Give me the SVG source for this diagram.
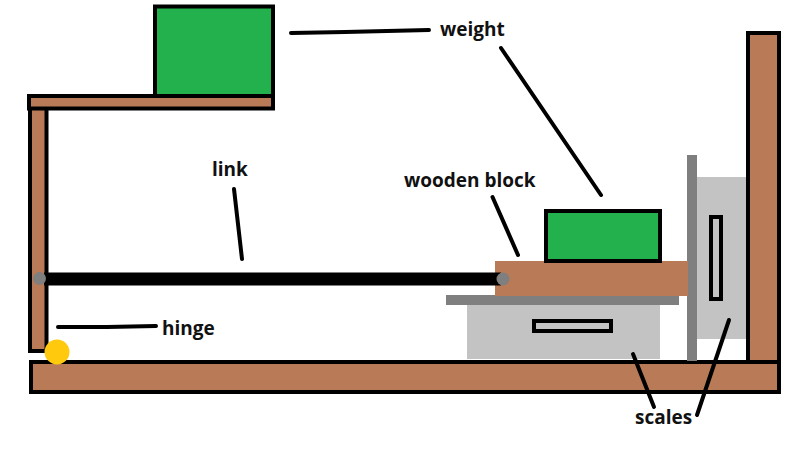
<svg xmlns="http://www.w3.org/2000/svg" width="800" height="474" viewBox="0 0 800 474">
<style>
.wood{fill:#b97a57;stroke:#000;stroke-width:4}
.mass{fill:#22b14c;stroke:#000;stroke-width:4}
.scale{fill:#c3c3c3}
.plate{fill:#7f7f7f}
.slot{fill:#c3c3c3;stroke:#000;stroke-width:4}
.lead{fill:none;stroke:#000;stroke-width:4;stroke-linecap:round;stroke-linejoin:round}
text{font-family:"Open Sans","Noto Sans","Liberation Sans",sans-serif;font-weight:700;font-size:19px;fill:#111}
</style>
<rect width="800" height="474" fill="#fff"/>
<g id="frame-post"><rect class="wood" x="30" y="108" width="16.500" height="243"/></g>
<g id="frame-shelf"><rect class="wood" x="29" y="96" width="244" height="12.500"/></g>
<g id="upper-weight"><rect class="mass" x="155" y="6.500" width="118" height="89.500"/></g>
<g id="right-post"><rect class="wood" x="748" y="33" width="31" height="329"/></g>
<g id="base"><rect class="wood" x="31" y="362" width="748" height="30"/></g>
<g id="horizontal-scale">
<rect class="scale" x="467" y="304" width="193" height="55"/>
<rect class="slot" x="534" y="321" width="77" height="10"/>
<rect class="plate" x="446" y="295" width="233" height="10"/>
</g>
<g id="vertical-scale">
<rect class="scale" x="696" y="177" width="50" height="162"/>
<rect class="slot" x="711" y="217" width="10" height="82"/>
<rect class="plate" x="687" y="155" width="10" height="206"/>
</g>
<g id="wooden-block"><rect x="495" y="261" width="193" height="35" fill="#b97a57"/></g>
<g id="lower-weight"><rect class="mass" x="546" y="211" width="114" height="50"/></g>
<g id="link"><rect x="44" y="272.500" width="457" height="13" fill="#000"/></g>
<g id="pivot-left"><circle cx="39.500" cy="278.500" r="6.500" fill="#7f7f7f"/></g>
<g id="pivot-right"><circle cx="503" cy="279" r="6.500" fill="#7f7f7f"/></g>
<g id="hinge"><circle cx="57" cy="352" r="12.500" fill="#ffc90e"/></g>
<g id="connectors">
<path class="lead" d="M291 33L345 32L429 30"/>
<path class="lead" d="M501 48L601 195"/>
<path class="lead" d="M234 189L242 259"/>
<path class="lead" d="M492.500 197L518 255"/>
<path class="lead" d="M58 327L107 327L156 326"/>
<path class="lead" d="M633 354L654 407"/>
<path class="lead" d="M729 320L697 415"/>
</g>
<g id="labels">
<text x="440" y="36">weight</text>
<text x="212" y="176">link</text>
<text x="404" y="187">wooden block</text>
<text x="162" y="335">hinge</text>
<text x="635" y="424">scales</text>
</g>
</svg>
